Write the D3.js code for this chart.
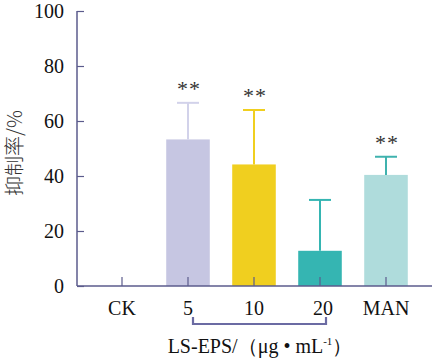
<!DOCTYPE html>
<html>
<head>
<meta charset="utf-8">
<script src="https://cdn.jsdelivr.net/npm/d3@7"></script>
</head>
<body style="margin:0;background:#fff">
<svg id="chart" width="432" height="361"></svg>
<script>
const categories = ["CK", "5", "10", "20", "MAN"];
const values = [0, 53.3, 44.2, 12.8, 40.4];
const errors = [0, 13.3, 19.8, 18.5, 6.6];
const signif = ["", "**", "**", "", "**"];
const yTicks = [0, 20, 40, 60, 80, 100];
const barColors = ["#ffffff", "#c6c6e2", "#f0cf1f", "#35b5b2", "#afdcdc"];
const errColors = ["#ffffff", "#d2d2ea", "#f0cf1f", "#35b5b2", "#3fb2ae"];

const serif = "'Liberation Serif', 'Times New Roman', 'DejaVu Serif', serif";
const svg = d3.select("#chart");
const axisColor = "#5b5b8c";

const x = d3.scaleBand()
  .domain(categories)
  .range([89, 419])
  .paddingInner(0.34)
  .paddingOuter(0.17);

const y = d3.scaleLinear()
  .domain([0, 100])
  .range([286, 11]);

const data = categories.map((c, i) => ({c, v: values[i], e: errors[i], s: signif[i], i}));

// bars
svg.selectAll("rect.bar")
  .data(data.filter(d => d.v > 0))
  .enter().append("rect")
  .attr("class", "bar")
  .attr("x", d => x(d.c))
  .attr("width", x.bandwidth())
  .attr("y", d => y(d.v))
  .attr("height", d => y(0) - y(d.v))
  .attr("fill", d => barColors[d.i]);

// error bars
const eb = svg.selectAll("g.err")
  .data(data.filter(d => d.e > 0))
  .enter().append("g")
  .attr("class", "err")
  .attr("stroke", d => errColors[d.i])
  .attr("stroke-width", 2);

eb.append("line")
  .attr("x1", d => x(d.c) + x.bandwidth() / 2)
  .attr("x2", d => x(d.c) + x.bandwidth() / 2)
  .attr("y1", d => y(d.v))
  .attr("y2", d => y(d.v + d.e));

eb.append("line")
  .attr("x1", d => x(d.c) + x.bandwidth() / 2 - 11)
  .attr("x2", d => x(d.c) + x.bandwidth() / 2 + 11)
  .attr("y1", d => y(d.v + d.e))
  .attr("y2", d => y(d.v + d.e));

// significance stars
svg.selectAll("text.sig")
  .data(data.filter(d => d.s))
  .enter().append("text")
  .attr("class", "sig")
  .attr("x", d => x(d.c) + x.bandwidth() / 2 + 1)
  .attr("y", d => y(d.v + d.e) - 7)
  .attr("text-anchor", "middle")
  .style("font-family", serif)
  .style("font-size", "22px")
  .style("letter-spacing", "1px")
  .attr("fill", "#333")
  .text(d => d.s);

// y axis
const yAxis = d3.axisRight(y).tickValues(yTicks).tickSize(7).tickFormat("");
const yAxisG = svg.append("g")
  .attr("transform", "translate(77,0)")
  .call(yAxis);
yAxisG.select(".domain").remove();
yAxisG.selectAll(".tick line").attr("stroke", axisColor).attr("stroke-width", 1.2);
svg.append("line")
  .attr("x1", 77).attr("x2", 77)
  .attr("y1", y(100)).attr("y2", y(0))
  .attr("stroke", axisColor).attr("stroke-width", 1.5);

svg.selectAll("text.ylab")
  .data(yTicks)
  .enter().append("text")
  .attr("class", "ylab")
  .attr("x", 64)
  .attr("y", d => y(d) + 7)
  .attr("text-anchor", "end")
  .style("font-family", serif)
  .style("font-size", "20px")
  .attr("fill", "#111")
  .text(d => d);

// x axis
const xAxis = d3.axisTop(x).tickSize(9).tickFormat("");
const xAxisG = svg.append("g")
  .attr("transform", `translate(0,${y(0)})`)
  .call(xAxis);
xAxisG.select(".domain").remove();
xAxisG.selectAll(".tick line").attr("stroke", axisColor).attr("stroke-width", 1.2);
svg.append("line")
  .attr("x1", 77).attr("x2", 432)
  .attr("y1", y(0)).attr("y2", y(0))
  .attr("stroke", axisColor).attr("stroke-width", 1.5);

svg.selectAll("text.xlab")
  .data(categories)
  .enter().append("text")
  .attr("class", "xlab")
  .attr("x", d => x(d) + x.bandwidth() / 2 + (d === "20" ? 3 : 0))
  .attr("y", 315)
  .attr("text-anchor", "middle")
  .style("font-family", serif)
  .style("font-size", "20px")
  .attr("fill", "#111")
  .text(d => d);

// bracket under LS-EPS groups
const bx1 = x("5") + x.bandwidth() / 2 + 5;
const bx2 = x("20") + x.bandwidth() / 2 + 6;
svg.append("path")
  .attr("d", `M${bx1},317V324H${bx2}V317`)
  .attr("fill", "none")
  .attr("stroke", "#6b6ba3")
  .attr("stroke-width", 2.2);

// axis titles
const xt = svg.append("text")
  .attr("x", 260)
  .attr("y", 353)
  .attr("text-anchor", "middle")
  .style("font-family", serif)
  .style("font-size", "20px")
  .attr("fill", "#111");
xt.append("tspan").text("LS-EPS/（μg • mL");
xt.append("tspan").style("font-size", "11px").attr("dy", -8).text("-1");
xt.append("tspan").attr("dy", 8).text("）");

svg.append("text")
  .attr("transform", "translate(22,153) rotate(-90)")
  .attr("text-anchor", "middle")
  .style("font-family", "'Noto Sans CJK SC', sans-serif")
  .style("font-size", "20px")
  .style("font-weight", 300)
  .attr("fill", "#333")
  .text("抑制率/%");
</script>
</body>
</html>
